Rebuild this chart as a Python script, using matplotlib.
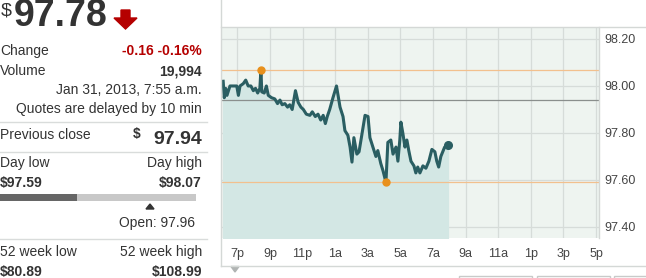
import pandas as pd
import matplotlib
matplotlib.use("Agg")
import matplotlib.pyplot as plt
from matplotlib.lines import Line2D
from matplotlib.patches import Rectangle, Polygon

plt.rcParams['font.family'] = ['Liberation Sans', 'DejaVu Sans']

# intraday quotes, Jan 30 6pm -> Jan 31 7:55am
times = ["18:08", "18:12", "18:17", "18:22", "18:33", "18:45", "18:58", "19:04", "19:10", "19:22",
         "19:31", "19:40", "19:50", "19:59", "20:07", "20:15", "20:23", "20:27", "20:30", "20:39",
         "20:47", "20:54", "21:06", "21:18", "21:28", "21:37", "21:45", "21:55", "22:05", "22:13",
         "22:22", "22:34", "22:44", "22:54", "23:03", "23:14", "23:27", "23:36", "23:47", "23:57",
         "00:07", "00:16", "00:24", "00:31", "00:40", "00:52", "01:05", "01:18", "01:29", "01:36",
         "01:47", "01:55", "02:02", "02:09", "02:20", "02:28", "02:50", "03:01", "03:08", "03:19",
         "03:30", "03:37", "03:48", "03:56", "04:07", "04:14", "04:25", "04:33", "04:44", "04:51",
         "04:58", "05:02", "05:09", "05:17", "05:24", "05:31", "05:39", "05:50", "05:57", "06:04",
         "06:12", "06:23", "06:34", "06:45", "06:56", "07:07", "07:14", "07:21", "07:29", "07:36",
         "07:43", "07:55"]
prices = [98.02, 97.95, 97.99, 97.96, 98.00, 98.00, 98.00, 97.96, 98.00, 98.01,
          98.025, 98.00, 98.00, 97.98, 97.99, 97.97, 97.99, 98.07, 97.975, 97.97,
          98.00, 97.96, 97.95, 97.945, 97.925, 97.94, 97.92, 97.925, 97.91, 97.92,
          97.90, 97.98, 97.93, 97.91, 97.90, 97.88, 97.875, 97.89, 97.87, 97.88,
          97.855, 97.875, 97.84, 97.87, 97.90, 97.95, 98.00, 97.91, 97.87, 97.81,
          97.79, 97.74, 97.676, 97.78, 97.71, 97.72, 97.875, 97.87, 97.78, 97.74,
          97.70, 97.725, 97.67, 97.64, 97.59, 97.76, 97.77, 97.71, 97.74, 97.68,
          97.77, 97.846, 97.80, 97.74, 97.77, 97.725, 97.68, 97.66, 97.63, 97.655,
          97.63, 97.66, 97.65, 97.68, 97.73, 97.72, 97.68, 97.655, 97.70, 97.72,
          97.74, 97.75]

prev_close = 97.94
day_low = 97.59
day_high = 98.07
y_ticks = [97.40, 97.60, 97.80, 98.00, 98.20]
x_tick_labels = ["7p", "9p", "11p", "1a", "3a", "5a", "7a", "9a", "11a", "1p", "3p", "5p"]

stamps = []
for t in times:
    d = "2013-01-30" if int(t[:2]) >= 18 else "2013-01-31"
    stamps.append(pd.Timestamp(d + " " + t))
df = pd.DataFrame({"time": stamps, "price": prices})

W, H = 646, 278
fig = plt.figure(figsize=(W / 100, H / 100), dpi=100)


def px(x, y):
    return x / W, 1 - y / H


# ---- chart ----
l, t, r, b = 221, 27, 599, 238
ax = fig.add_axes([l / W, 1 - b / H, (r - l) / W, (b - t) / H])
ax.set_facecolor("#eef4f0")
start = pd.Timestamp("2013-01-30 18:00")
end = pd.Timestamp("2013-01-31 17:11")
ax.set_xlim(start, end)
ax.set_ylim(97.353, 98.251)

tick_times = pd.date_range("2013-01-30 19:00", periods=len(x_tick_labels), freq="2h")
ax.set_xticks(tick_times)
ax.set_xticklabels(x_tick_labels)
ax.set_yticks(y_ticks)
ax.set_yticklabels(["%.2f" % v for v in y_ticks])
ax.yaxis.tick_right()
ax.tick_params(length=0, labelsize=9, colors="#444444")
ax.tick_params(axis="x", pad=7)
ax.tick_params(axis="y", pad=4)
ax.grid(True, color="#d6dcd9", lw=0.9)
ax.set_axisbelow(True)
for s in ax.spines.values():
    s.set_visible(False)

ax.fill_between(df["time"], df["price"], 97.353, color="#d3e7e4", zorder=1)
ax.axhline(day_high, color="#f2c08e", lw=0.9, zorder=2)
ax.axhline(day_low, color="#f2c08e", lw=0.9, zorder=2)
ax.axhline(prev_close, color="#8a8f8d", lw=0.9, zorder=2)
ax.plot(df["time"], df["price"], color="#2a5e62", lw=2.2, zorder=3, solid_joinstyle="round")
hi = df.loc[df["price"].idxmax()]
lo = df.loc[df["price"].idxmin()]
ax.plot([hi["time"], lo["time"]], [hi["price"], lo["price"]], "o", color="#e8901c", ms=5, zorder=4)
ax.plot(df["time"].iloc[-1], df["price"].iloc[-1], "o", color="#2a5e62", ms=5.5, zorder=4)

# container borders
border = "#d4d8d6"
fig.add_artist(Line2D([221 / W, 221 / W], [1 - 0 / H, 1 - 266 / H], color=border, lw=1))
fig.add_artist(Line2D([221 / W, 1], [1 - 27 / H, 1 - 27 / H], color=border, lw=1))
fig.add_artist(Line2D([221 / W, 1], [1 - 266 / H, 1 - 266 / H], color=border, lw=1))
fig.add_artist(Line2D([599 / W, 599 / W], [1 - 27 / H, 1 - 238 / H], color=border, lw=1))
fig.add_artist(Polygon([px(231, 266.5), px(239, 266.5), px(235, 272)], color="#b0b4b3"))
for x0, x1 in [(459, 532), (537, 610), (614, 660)]:
    fig.add_artist(Rectangle(px(x0, 285), (x1 - x0) / W, 9 / H, fill=False, ec="#c8cac9", lw=1))

# ---- quote panel ----
dark = "#333333"
red = "#b50000"
fig.text(*px(1, 11), "$", fontsize=14, color=dark, va="center")
fig.text(*px(14, 16.5), "97.78", fontsize=27, fontweight="bold", color=dark, va="center")
fig.add_artist(Polygon([px(121, 10), px(130, 10), px(130, 18), px(137, 18), px(125.5, 29),
                        px(114, 18), px(121, 18)], color=red))

rows = [("Change", 51), ("Volume", 71)]
for name, y in rows:
    fig.text(*px(0, y), name, fontsize=10, color=dark, va="center")
fig.text(*px(202, 51), "-0.16 -0.16%", fontsize=10, fontweight="bold", color=red, ha="right", va="center")
fig.text(*px(202, 71), "19,994", fontsize=10, fontweight="bold", color=dark, ha="right", va="center")
fig.text(*px(202, 90), "Jan 31, 2013, 7:55 a.m.", fontsize=10, color=dark, ha="right", va="center")
fig.text(*px(202, 109), "Quotes are delayed by 10 min", fontsize=10, color=dark, ha="right", va="center")

sep = "#d9dcdb"
for y in [122, 152, 239]:
    fig.add_artist(Line2D([0, 207 / W], [1 - y / H, 1 - y / H], color=sep, lw=1))

fig.text(*px(0, 135), "Previous close", fontsize=10, color=dark, va="center")
fig.text(*px(202, 140), "97.94", fontsize=14, fontweight="bold", color=dark, ha="right", va="center")
fig.text(*px(133, 134), "$", fontsize=10, fontweight="bold", color=dark, va="center")

fig.text(*px(0, 163), "Day low", fontsize=10, color=dark, va="center")
fig.text(*px(202, 163), "Day high", fontsize=10, color=dark, ha="right", va="center")
fig.text(*px(0, 183), "$%.2f" % day_low, fontsize=10, fontweight="bold", color=dark, va="center")
fig.text(*px(202, 183), "$%.2f" % day_high, fontsize=10, fontweight="bold", color=dark, ha="right", va="center")
fig.add_artist(Rectangle(px(0, 200.5), 77 / W, 6.5 / H, color="#666666", lw=0))
fig.add_artist(Rectangle(px(77, 200.5), 119 / W, 6.5 / H, color="#c8c8c8", lw=0))
fig.add_artist(Polygon([px(146, 209), px(154, 209), px(150, 204)], color=dark))
fig.text(*px(195, 223), "Open: 97.96", fontsize=10, color=dark, ha="right", va="center")

fig.text(*px(0, 252), "52 week low", fontsize=10, color=dark, va="center")
fig.text(*px(202, 252), "52 week high", fontsize=10, color=dark, ha="right", va="center")
fig.text(*px(0, 272), "$80.89", fontsize=10, fontweight="bold", color=dark, va="center")
fig.text(*px(202, 272), "$108.99", fontsize=10, fontweight="bold", color=dark, ha="right", va="center")

fig.savefig("out.png", dpi=100)
